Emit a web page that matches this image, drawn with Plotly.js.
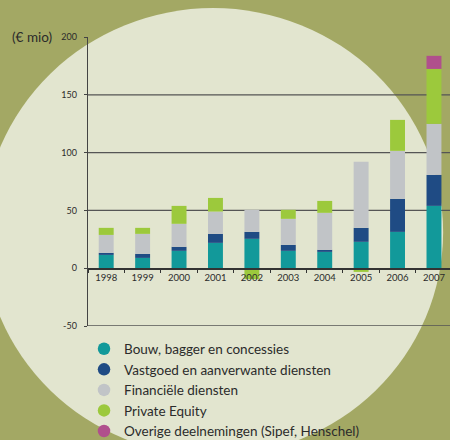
<!DOCTYPE html>
<html>
<head>
<meta charset="utf-8">
<script src="https://cdn.plot.ly/plotly-3.0.1.min.js"></script>
<style>html,body{margin:0;padding:0;background:#a3a864;}#chart{width:450px;height:440px;}</style>
</head>
<body>
<div id="chart"></div>
<script>
const years = ['1998','1999','2000','2001','2002','2003','2004','2005','2006','2007'];
const bouw = [11.5, 8.9, 15.0, 21.9, 25.4, 15.0, 14.1, 22.8, 31.4, 53.9];
const vastgoed = [1.8, 3.5, 3.5, 7.8, 6.0, 5.2, 1.8, 12.1, 28.6, 26.8];
const financieel = [15.5, 17.3, 19.9, 19.3, 19.1, 22.5, 32.0, 57.1, 41.5, 44.2];
const privateEquity = [6.1, 5.2, 15.5, 11.8, -9.5, 7.8, 10.3, -3.2, 26.8, 47.5];
const overige = [0, 0, 0, 0, 0, 0, 0, 0, 0, 11.3];

const seriesNames = ['Bouw, bagger en concessies','Vastgoed en aanverwante diensten','Financiële diensten','Private Equity','Overige deelnemingen (Sipef, Henschel)'];
const seriesColors = ['#12999a','#1f4b84','#c1c4c7','#9cc93c','#b0508c'];
const yTickVals = [-50, 0, 50, 100, 150, 200];
const yTickText = ['-50', '0', '50', '100', '150', '200'];
const gridVals = [-50, 50, 100, 150];
const unitLabel = '(€ mio)';

const seriesData = [bouw, vastgoed, financieel, privateEquity, overige];
const traces = [];
seriesData.forEach((vals, i) => {
  traces.push({type:'bar', x: years, y: vals, name: seriesNames[i], marker:{color: seriesColors[i], line:{width:0}}, showlegend:false, hoverinfo:'skip'});
});
seriesNames.forEach((n, i) => {
  traces.push({type:'scatter', mode:'markers', x:[null], y:[null], name:n, marker:{symbol:'circle', size:12.5, color:seriesColors[i]}, showlegend:true, hoverinfo:'skip'});
});

const txt = '#2b2b2b';
const shapes = [{type:'circle', xref:'paper', yref:'paper', layer:'below', x0:-0.290, x1:0.981, y0:-0.450, y1:1.100, fillcolor:'#e2e5cf', line:{width:0}}];
gridVals.forEach(v => shapes.push({type:'line', xref:'paper', yref:'y', layer:'below', x0:0, x1:1, y0:v, y1:v, line:{color:'#555', width:1.3}}));

const layout = {
  width:450, height:440,
  paper_bgcolor:'#a3a864', plot_bgcolor:'rgba(0,0,0,0)',
  margin:{l:88, r:0, t:37, b:114, autoexpand:false},
  barmode:'relative', bargap:0.59,
  font:{family:'Lato, "Open Sans", sans-serif', color:txt},
  showlegend:true,
  legend:{x:-0.011, xanchor:'left', y:-0.026, yanchor:'top', traceorder:'normal', bgcolor:'rgba(0,0,0,0)', font:{size:13.5, color:txt}},
  xaxis:{type:'category', range:[-0.5, 9.44], anchor:'free', position:0.2, showline:true, linecolor:'#333', linewidth:1.5,
    ticks:'outside', tickson:'boundaries', ticklen:3, tickcolor:'#333', tickfont:{size:9.5, color:txt}, showgrid:false, zeroline:false, fixedrange:true},
  yaxis:{range:[-50, 200], tickvals:yTickVals, ticktext:yTickText, showline:true, linecolor:'#444', linewidth:1.3,
    ticks:'outside', ticklen:3, tickcolor:'#444', tickfont:{size:9, color:txt}, showgrid:false, zeroline:false, ticklabelstandoff:5, fixedrange:true},
  shapes: shapes,
  annotations:[{xref:'paper', yref:'y', x:-0.155, y:200, text:unitLabel, showarrow:false, font:{size:13.5, color:txt}, xanchor:'center', yanchor:'middle'}]
};
Plotly.newPlot('chart', traces, layout, {displayModeBar:false, staticPlot:true});
</script>
</body>
</html>
